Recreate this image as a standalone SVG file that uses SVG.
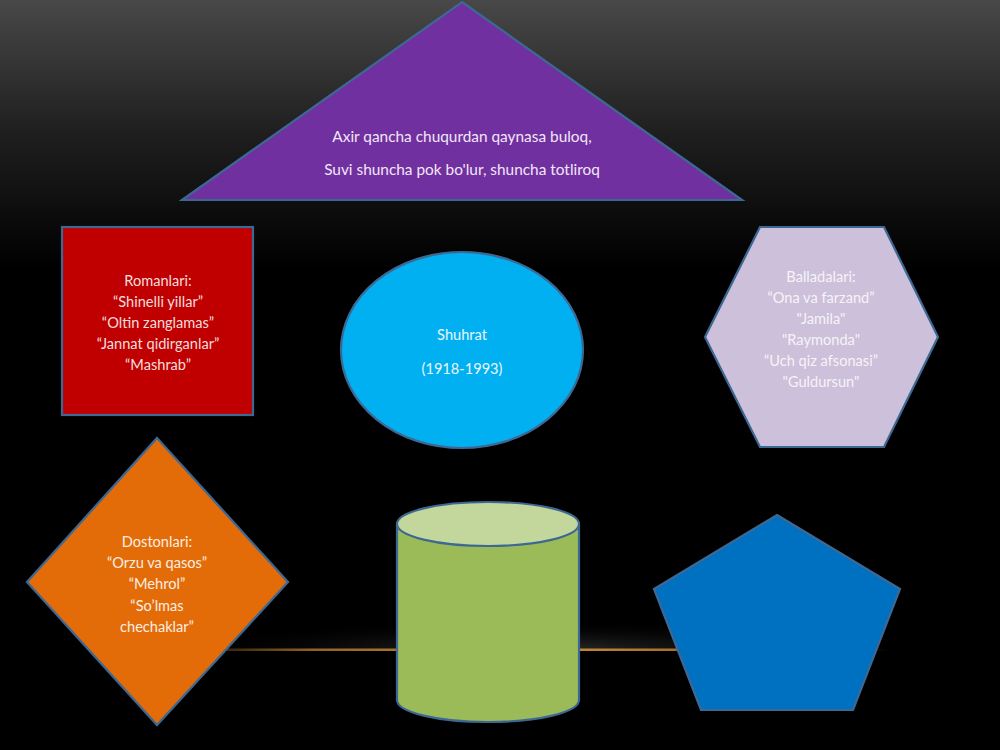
<svg xmlns="http://www.w3.org/2000/svg" width="1000" height="750" viewBox="0 0 1000 750">
<defs>
<linearGradient id="bg" x1="0" y1="0" x2="0" y2="1">
<stop offset="0" stop-color="#484848"/>
<stop offset="0.18" stop-color="#1e1e1e"/>
<stop offset="0.36" stop-color="#000"/>
<stop offset="1" stop-color="#000"/>
</linearGradient>
<linearGradient id="glowline" x1="0" y1="0" x2="1" y2="0">
<stop offset="0" stop-color="#b87a2a" stop-opacity="0"/>
<stop offset="0.2" stop-color="#b87a2a" stop-opacity="0.8"/>
<stop offset="0.5" stop-color="#d09038" stop-opacity="1"/>
<stop offset="0.8" stop-color="#b87a2a" stop-opacity="0.8"/>
<stop offset="1" stop-color="#b87a2a" stop-opacity="0"/>
</linearGradient>
<radialGradient id="spot" cx="0.5" cy="1" r="0.5">
<stop offset="0" stop-color="#555" stop-opacity="0.55"/>
<stop offset="1" stop-color="#000" stop-opacity="0"/>
</radialGradient>
<style>
.shape{stroke:#3d6894;stroke-width:2.2}
.t{font-family:Lato,"Open Sans","Liberation Sans",sans-serif;font-size:14.6px;text-anchor:middle}
.tt{font-size:15.4px}
</style>
</defs>
<rect width="1000" height="750" fill="url(#bg)"/>
<rect x="170" y="590" width="720" height="60" fill="url(#spot)"/>
<rect x="170" y="648.5" width="720" height="2.5" fill="url(#glowline)"/>
<g id="connectors"/>
<g id="triangle">
<polygon class="shape" points="462,2 742,200 182,200" fill="#7030a0"/>
<text class="t tt" x="462" y="142" fill="#f0e6f8">Axir qancha chuqurdan qaynasa buloq,</text>
<text class="t tt" x="462" y="175" fill="#f0e6f8">Suvi shuncha pok bo'lur, shuncha totliroq</text>
</g>
<g id="romanlari">
<rect class="shape" x="62" y="227" width="191" height="188" fill="#c00000"/>
<g class="t" fill="#f4dede">
<text x="158" y="286">Romanlari:</text>
<text x="158" y="307">“Shinelli yillar”</text>
<text x="158" y="328">“Oltin zanglamas”</text>
<text x="158" y="349">“Jannat qidirganlar”</text>
<text x="158" y="370">“Mashrab”</text>
</g>
</g>
<g id="shuhrat">
<ellipse class="shape" cx="462" cy="350" rx="121" ry="98" fill="#00b0f0"/>
<text class="t" x="462" y="340" fill="#eaf6fc">Shuhrat</text>
<text class="t" x="462" y="374" fill="#eaf6fc">(1918-1993)</text>
</g>
<g id="balladalari">
<polygon class="shape" points="705,337 760,227 884,227 938,337 884,447 760,447" fill="#ccc0da"/>
<g class="t" fill="#f6f4f8">
<text x="821" y="282">Balladalari:</text>
<text x="821" y="303">“Ona va farzand”</text>
<text x="821" y="324">"Jamila"</text>
<text x="821" y="345">"Raymonda"</text>
<text x="821" y="366">“Uch qiz afsonasi”</text>
<text x="821" y="387">"Guldursun"</text>
</g>
</g>
<g id="dostonlari">
<polygon class="shape" points="157,438 288,582 157,725 27,582" fill="#e36c09"/>
<g class="t" fill="#fbeee2">
<text x="157" y="547">Dostonlari:</text>
<text x="157" y="568">“Orzu va qasos”</text>
<text x="157" y="589">“Mehrol”</text>
<text x="157" y="611">“So’lmas</text>
<text x="157" y="632">chechaklar”</text>
</g>
</g>
<g id="cylinder">
<path class="shape" d="M397,524 L397,700 A91,22 0 0 0 579,700 L579,524" fill="#9bbb59"/>
<ellipse class="shape" cx="488" cy="524" rx="91" ry="22" fill="#c3d69b"/>
</g>
<g id="pentagon">
<polygon class="shape" points="777,515 900,589 853,710 701,710 654,589" fill="#0070c0"/>
</g>
</svg>
